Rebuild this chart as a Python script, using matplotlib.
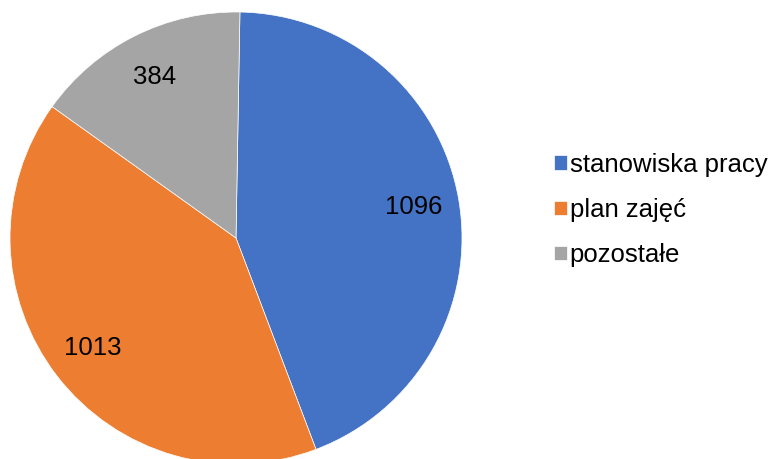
import matplotlib
matplotlib.use("Agg")
import matplotlib.pyplot as plt

categories = ["stanowiska pracy", "plan zajęć", "pozostałe"]
values = [1096, 1013, 384]
colors = ["#4472C4", "#ED7D31", "#A5A5A5"]

plt.rcParams["font.family"] = ["Liberation Sans", "DejaVu Sans"]

fig = plt.figure(figsize=(7.78, 4.59), dpi=100)
fig.patch.set_facecolor("white")
ax = fig.add_axes([10 / 778, -5 / 459, 452 / 778, 452 / 459])

wedges, texts, autotexts = ax.pie(
    values, colors=colors, startangle=89, counterclock=False,
    autopct=lambda p: f"{p * sum(values) / 100:.0f}", pctdistance=0.8,
    wedgeprops=dict(edgecolor="white", linewidth=0.5),
    textprops=dict(fontsize=18.5, color="black"),
)
ax.set_xlim(-1, 1)
ax.set_ylim(-1, 1)
ax.set_aspect("equal")
ax.axis("off")

fig.legend(wedges, categories, loc="center left", bbox_to_anchor=(541 / 778, 1 - 210 / 459),
           frameon=False, fontsize=18.5, handlelength=0.5, handleheight=0.5,
           handletextpad=0.12, labelspacing=0.82, borderpad=0)

fig.savefig("out.png", dpi=100)
